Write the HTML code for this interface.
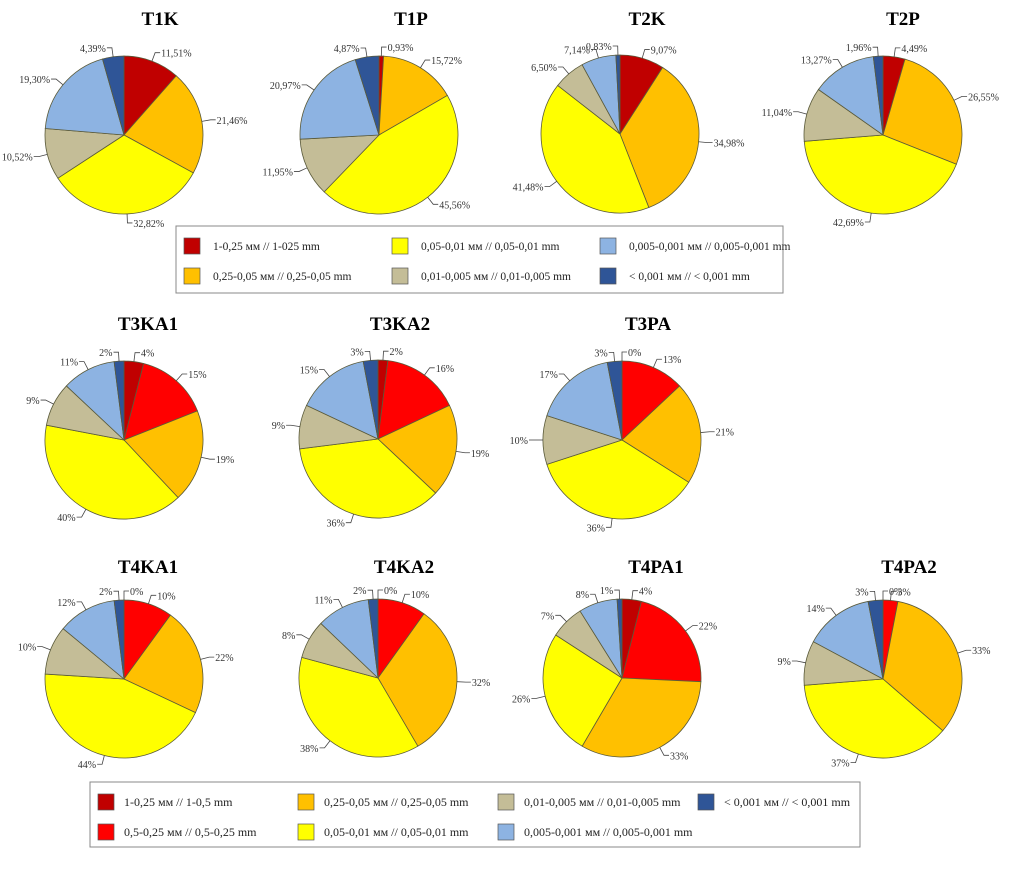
<!DOCTYPE html>
<html><head><meta charset="utf-8"><style>
body{margin:0;background:#fff;}
svg{display:block;font-family:"Liberation Serif",serif;}
</style></head><body>
<svg id="c" width="1012" height="873" viewBox="0 0 1012 873"></svg>
<script>
const t1k=[11.51,21.46,32.82,10.52,19.30,4.39];
const t1p=[0.93,15.72,45.56,11.95,20.97,4.87];
const t2k=[9.07,34.98,41.48,6.50,7.14,0.83];
const t2p=[4.49,26.55,42.69,11.04,13.27,1.96];
const t3ka1=[4,15,19,40,9,11,2];
const t3ka2=[2,16,19,36,9,15,3];
const t3pa=[0,13,21,36,10,17,3];
const t4ka1=[0,10,22,44,10,12,2];
const t4ka2=[0,10,32,38,8,11,2];
const t4pa1=[4,22,33,26,7,8,1];
const t4pa2=[0,3,33,37,9,14,3];
const colors6=["#c00000","#ffc000","#ffff00","#c4bd97","#8db3e2","#2f5597"];
const colors7=["#c00000","#ff0000","#ffc000","#ffff00","#c4bd97","#8db3e2","#2f5597"];
const legend1=["1-0,25 мм // 1-025 mm","0,25-0,05 мм // 0,25-0,05 mm","0,05-0,01 мм // 0,05-0,01 mm","0,01-0,005 мм // 0,01-0,005 mm","0,005-0,001 мм // 0,005-0,001 mm","< 0,001 мм // < 0,001 mm"];
const legend2=["1-0,25 мм // 1-0,5 mm","0,5-0,25 мм // 0,5-0,25 mm","0,25-0,05 мм // 0,25-0,05 mm","0,05-0,01 мм // 0,05-0,01 mm","0,01-0,005 мм // 0,01-0,005 mm","0,005-0,001 мм // 0,005-0,001 mm","< 0,001 мм // < 0,001 mm"];
const NS="http://www.w3.org/2000/svg";
const svg=document.getElementById('c');
function mk(tag,attrs,parent){const e=document.createElementNS(NS,tag);for(const k in attrs)e.setAttribute(k,attrs[k]);(parent||svg).appendChild(e);return e;}
function pie(vals,cols,cx,cy,r,title,tx,ty,fmt,key){
  const g=mk('g',{});
  
  
  const tt=mk('text',{x:tx,y:ty,'text-anchor':'middle','font-size':19,'font-weight':'bold',fill:'#000'},g);
  tt.textContent=title;
  
  
  const tot=vals.reduce((a,b)=>a+b,0);
  let a=0;
  vals.forEach((v,i)=>{
    const a0=a/tot*2*Math.PI, a1=(a+v)/tot*2*Math.PI; a+=v;
    const p=t=>[cx+r*Math.sin(t),cy-r*Math.cos(t)];
    if(v>0){
      const [x0,y0]=p(a0),[x1,y1]=p(a1);
      const s=mk('path',{d:`M${cx},${cy}L${x0},${y0}A${r},${r} 0 ${a1-a0>Math.PI?1:0} 1 ${x1},${y1}Z`,fill:cols[i],stroke:'#5a5a3a','stroke-width':0.8},g);
      
      
    }
    const m=(a0+a1)/2, sx=Math.sin(m), cy2=-Math.cos(m);
    mk('path',{d:`M${cx+r*sx},${cy+r*cy2}L${cx+(r+9)*sx},${cy+(r+9)*cy2}L${cx+(r+9)*sx+(sx>=0?5:-5)},${cy+(r+9)*cy2}`,stroke:'#444',fill:'none','stroke-width':0.8},g);
    const lb=mk('text',{x:cx+(r+9)*sx+(sx>=0?6:-6),y:cy+(r+9)*cy2+4,'text-anchor':sx>=0?'start':'end','font-size':10,fill:'#333'},g);
    lb.textContent=fmt(v);
    
    
  });
}
const f2=v=>v.toFixed(2).replace('.',',')+'%', f0=v=>v+'%';
pie(t1k,colors6,124,135,79,'T1K',160,25,f2,'t1k');
pie(t1p,colors6,379,135,79,'T1P',411,25,f2,'t1p');
pie(t2k,colors6,620,134,79,'T2K',647,25,f2,'t2k');
pie(t2p,colors6,883,135,79,'T2P',903,25,f2,'t2p');
pie(t3ka1,colors7,124,440,79,'T3KA1',148,330,f0,'t3ka1');
pie(t3ka2,colors7,378,439,79,'T3KA2',400,330,f0,'t3ka2');
pie(t3pa,colors7,622,440,79,'T3PA',648,330,f0,'t3pa');
pie(t4ka1,colors7,124,679,79,'T4KA1',148,573,f0,'t4ka1');
pie(t4ka2,colors7,378,678,79,'T4KA2',404,573,f0,'t4ka2');
pie(t4pa1,colors7,622,678,79,'T4PA1',656,573,f0,'t4pa1');
pie(t4pa2,colors7,883,679,79,'T4PA2',909,573,f0,'t4pa2');
function legend(items,cols,x,y,w,h,colw,fs,toff,key){
  const g=mk('g',{});
  
  
  mk('rect',{x:x,y:y,width:w,height:h,fill:'#fff',stroke:'#888','stroke-width':1},g);
  items.forEach((t,i)=>{
    const c=Math.floor(i/2), rr=i%2;
    const ex=x+8+c*colw, ey=y+12+rr*30;
    const e=mk('g',{},g);
    
    
    mk('rect',{x:ex,y:ey,width:16,height:16,fill:cols[i],stroke:'#555','stroke-width':0.7},e);
    const tx=mk('text',{x:ex+toff,y:ey+12,'font-size':fs,fill:'#222'},e);
    tx.textContent=t;
  });
}
legend(legend1,colors6,176,226,607,67,208,11.5,29,'1');
legend(legend2,colors7,90,782,770,65,200,12,26,'2');
</script>
</body></html>
